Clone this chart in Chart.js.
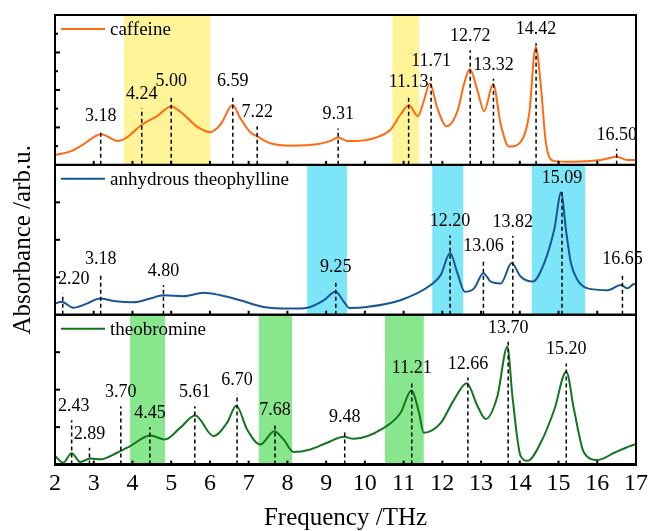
<!DOCTYPE html>
<html>
<head>
<meta charset="utf-8">
<script src="https://cdn.jsdelivr.net/npm/chart.js@4.4.1/dist/chart.umd.min.js"></script>
<style>
  html, body { margin: 0; padding: 0; background: #fff; }
</style>
</head>
<body>
<canvas id="canvasEspectro" width="648" height="531"></canvas>
<script>
// eixo x (THz)
var xTicks = [2, 3, 4, 5, 6, 7, 8, 9, 10, 11, 12, 13, 14, 15, 16, 17]

// cafeina
var freqCaffeine = [2.0, 2.4, 2.72, 3.19, 3.63, 3.85, 4.24, 4.63, 5.0, 5.32, 5.66, 6.01, 6.27, 6.59, 6.78, 7.04, 7.23, 7.56, 8.08, 8.77, 9.11, 9.31, 9.54, 9.80, 10.23, 10.66, 10.92, 11.14, 11.37, 11.52, 11.68, 11.87, 12.11, 12.39, 12.56, 12.71, 12.91, 13.08, 13.31, 13.51, 13.72, 14.03, 14.24, 14.41, 14.54, 14.67, 14.89, 15.4, 16.09, 16.5, 16.78, 17.0]
var absCaffeine = [6.6, 9, 13.5, 20.5, 16, 18.2, 26.8, 32.4, 39, 33.6, 25.7, 21.8, 26.8, 39.9, 31.3, 21.8, 18.9, 14.4, 12.8, 13.7, 16, 18.2, 16, 16, 17.8, 23.4, 33.6, 39.7, 32.4, 42.6, 54.3, 38, 25.7, 35.8, 53.9, 64, 49.3, 35.8, 53.9, 26.8, 12.2, 15.5, 33.6, 78.6, 53.9, 15.5, 2.5, 2, 3.2, 5.4, 3.2, 3.2]
var peaksCaffeine = [3.18, 4.24, 5.00, 6.59, 7.22, 9.31, 11.13, 11.71, 12.72, 13.32, 14.42, 16.50]
var topsCaffeine = [23, 37.8, 46.6, 46.6, 25.7, 24.3, 45.9, 60.1, 76.4, 57.4, 81.1, 10.8]
var bandsCaffeine = [[3.78, 6.01], [10.71, 11.40]]

// teofilina anidra
var freqTheophylline = [2.0, 2.17, 2.47, 2.82, 3.16, 3.51, 4.02, 4.46, 4.80, 5.32, 5.84, 6.27, 6.78, 7.39, 8.08, 8.51, 8.94, 9.24, 9.46, 9.6, 10.06, 10.92, 11.70, 11.96, 12.20, 12.39, 12.58, 12.82, 13.06, 13.25, 13.51, 13.79, 14.02, 14.33, 14.63, 14.89, 15.07, 15.19, 15.32, 15.49, 15.75, 16.27, 16.61, 16.78, 16.95, 17.0]
var absTheophylline = [7.4, 8.6, 4.7, 7.4, 10.8, 9.2, 8.3, 10.8, 13, 12.4, 14.7, 13, 9.7, 5.2, 4.1, 4.7, 9.7, 15.3, 8.6, 4.5, 5.2, 9.7, 19.8, 26.6, 41.2, 27.7, 15.3, 17.6, 27.7, 22.1, 20.9, 34.5, 25.5, 22.1, 34.5, 57, 81.8, 57, 34.5, 23.2, 17.6, 16.4, 19.8, 17.6, 20.5, 20]
var peaksTheophylline = [2.20, 3.18, 4.80, 9.25, 12.20, 13.06, 13.82, 15.09, 16.65]
var topsTheophylline = [14.2, 27.7, 19.8, 22.8, 52.9, 36.3, 52.5, 81.8, 27.7]
var bandsTheophylline = [[8.51, 9.54], [11.74, 12.54], [14.31, 15.69]]

// teobromina
var freqTheobromine = [2.0, 2.21, 2.43, 2.65, 2.91, 3.16, 3.60, 3.94, 4.46, 4.84, 5.23, 5.62, 6.09, 6.44, 6.68, 6.96, 7.30, 7.66, 7.90, 8.16, 8.59, 9.03, 9.46, 9.71, 10.49, 10.92, 11.20, 11.40, 11.52, 11.96, 12.30, 12.63, 12.91, 13.12, 13.42, 13.68, 13.81, 14.02, 14.2, 14.54, 14.89, 15.20, 15.40, 15.66, 16.01, 16.44, 16.96, 17.0]
var absTheobromine = [5.8, 1.3, 7.5, 1.8, 4, 3.5, 7.9, 12.4, 19.4, 16.8, 24.5, 32.7, 19, 27.8, 39.3, 23.4, 13.4, 22.3, 16.8, 8.4, 10.1, 14.6, 18.5, 17.2, 24.5, 34.4, 49.5, 34.4, 21.2, 27.8, 43.2, 54.3, 38.9, 30.5, 45.5, 78.6, 45.5, 5.8, 2.5, 14.6, 36.6, 62, 36.6, 7.9, 3.1, 7.9, 13.4, 13.6]
var peaksTheobromine = [2.43, 2.89, 3.70, 4.45, 5.61, 6.70, 7.68, 9.48, 11.21, 12.66, 13.70, 15.20]
var topsTheobromine = [29.6, 11.3, 38.9, 25, 38.9, 47, 27.2, 22.3, 55.4, 58.1, 81.9, 67.5]
var bandsTheobromine = [[3.94, 4.84], [7.26, 8.12], [10.52, 11.52]]

var yMajor = [25, 50, 75]
var yMinorCaffeine = [12.5, 37.5, 62.5, 87.5]

var serif = "'Liberation Serif', 'DejaVu Serif', serif"

function pontos(freqs, vals){
    var out = []
    freqs.forEach((f, i) => {
        out.push({x: f, y: vals[i]})
    })
    return out
}

var paineis = [
    {axis: 'yTop', cor: 'rgb(255, 106, 19)', banda: 'rgb(255, 245, 152)', bands: bandsCaffeine, peaks: peaksCaffeine, tops: topsCaffeine, minor: yMinorCaffeine},
    {axis: 'yMid', cor: 'rgb(22, 86, 150)', banda: 'rgb(125, 229, 248)', bands: bandsTheophylline, peaks: peaksTheophylline, tops: topsTheophylline, minor: []},
    {axis: 'yBot', cor: 'rgb(18, 118, 30)', banda: 'rgb(136, 230, 140)', bands: bandsTheobromine, peaks: peaksTheobromine, tops: topsTheobromine, minor: []}
]

var decoracao = {
    id: 'decoracao',
    beforeDatasetsDraw(chart){
        var ctx = chart.ctx
        var sx = chart.scales.x
        paineis.forEach((p) => {
            var sy = chart.scales[p.axis]
            ctx.save()
            ctx.fillStyle = p.banda
            p.bands.forEach((b) => {
                var x0 = sx.getPixelForValue(b[0])
                var x1 = sx.getPixelForValue(b[1])
                ctx.fillRect(x0, sy.top, x1 - x0, sy.bottom - sy.top)
            })
            ctx.restore()
        })
    },
    afterDatasetsDraw(chart){
        var ctx = chart.ctx
        var sx = chart.scales.x
        var area = chart.chartArea
        paineis.forEach((p, idx) => {
            var sy = chart.scales[p.axis]
            ctx.save()
            // linhas tracejadas dos picos
            ctx.strokeStyle = '#000'
            ctx.lineWidth = 1.5
            ctx.setLineDash([4, 3])
            p.peaks.forEach((pk, i) => {
                var px = sx.getPixelForValue(pk)
                ctx.beginPath()
                ctx.moveTo(px, sy.bottom)
                ctx.lineTo(px, sy.getPixelForValue(p.tops[i]))
                ctx.stroke()
            })
            ctx.setLineDash([])
            // rotulos
            ctx.fillStyle = '#000'
            ctx.font = '18px ' + serif
            ctx.textAlign = 'center'
            ctx.textBaseline = 'alphabetic'
            p.peaks.forEach((pk, i) => {
                var txt = pk.toFixed(2)
                var w = ctx.measureText(txt).width
                var px = Math.max(sx.getPixelForValue(pk), area.left + w / 2 + 3)
                ctx.fillText(txt, px, sy.getPixelForValue(p.tops[i]) - 9)
            })
            // ticks internos
            ctx.lineWidth = 2
            xTicks.forEach((t) => {
                var px = sx.getPixelForValue(t)
                ctx.beginPath()
                ctx.moveTo(px, sy.bottom)
                ctx.lineTo(px, sy.bottom - 4)
                ctx.stroke()
            })
            yMajor.forEach((t) => {
                var py = sy.getPixelForValue(t)
                ctx.beginPath()
                ctx.moveTo(area.left, py)
                ctx.lineTo(area.left + 5, py)
                ctx.stroke()
            })
            p.minor.forEach((t) => {
                var py = sy.getPixelForValue(t)
                ctx.beginPath()
                ctx.moveTo(area.left, py)
                ctx.lineTo(area.left + 3, py)
                ctx.stroke()
            })
            // moldura
            ctx.strokeRect(area.left, sy.top, area.right - area.left, sy.bottom - sy.top)
            // legenda
            var ds = chart.data.datasets[idx]
            var ly = sy.top + 14
            ctx.strokeStyle = p.cor
            ctx.lineWidth = 2
            ctx.beginPath()
            ctx.moveTo(area.left + 6, ly)
            ctx.lineTo(area.left + 50, ly)
            ctx.stroke()
            ctx.font = '19px ' + serif
            ctx.textAlign = 'left'
            ctx.textBaseline = 'middle'
            ctx.fillText(ds.label, area.left + 55, ly + 1)
            ctx.restore()
        })
        // borda inferior mais grossa
        ctx.save()
        ctx.strokeStyle = '#000'
        ctx.lineWidth = 3
        ctx.beginPath()
        ctx.moveTo(area.left - 1, area.bottom)
        ctx.lineTo(area.right + 1, area.bottom)
        ctx.stroke()
        // titulo do eixo y
        ctx.translate(23, (area.top + area.bottom) / 2)
        ctx.rotate(-Math.PI / 2)
        ctx.font = '25px ' + serif
        ctx.fillStyle = '#000'
        ctx.textAlign = 'center'
        ctx.textBaseline = 'middle'
        ctx.fillText('Absorbance /arb.u.', 0, 0)
        ctx.restore()
    }
}

function eixoY(){
    return {
        type: 'linear', min: 0, max: 100, position: 'left', stack: 'paineis', stackWeight: 1,
        ticks: {display: false}, grid: {display: false, drawTicks: false}, border: {display: false}
    }
}

var ctx = document.getElementById('canvasEspectro').getContext('2d')
var chart = new Chart(ctx, {
    type: 'line',
    data: {
        datasets: [
            {label: 'caffeine', data: pontos(freqCaffeine, absCaffeine), yAxisID: 'yTop', borderColor: paineis[0].cor},
            {label: 'anhydrous theophylline', data: pontos(freqTheophylline, absTheophylline), yAxisID: 'yMid', borderColor: paineis[1].cor},
            {label: 'theobromine', data: pontos(freqTheobromine, absTheobromine), yAxisID: 'yBot', borderColor: paineis[2].cor}
        ]
    },
    options: {
        responsive: false,
        animation: false,
        devicePixelRatio: 1,
        layout: {padding: {left: 55, right: 0, top: 15, bottom: 0}},
        elements: {
            point: {radius: 0},
            line: {borderWidth: 2, cubicInterpolationMode: 'monotone', fill: false}
        },
        plugins: {legend: {display: false}, tooltip: {enabled: false}},
        scales: {
            x: {
                type: 'linear', min: 2, max: 17, position: 'bottom',
                afterBuildTicks: (s) => { s.ticks = xTicks.map((v) => ({value: v})) },
                ticks: {color: '#000', font: {family: serif, size: 24, lineHeight: 1.6}, padding: 0, maxRotation: 0},
                grid: {display: false, drawTicks: false}, border: {display: false},
                title: {display: true, text: 'Frequency /THz', color: '#000', font: {family: serif, size: 25, lineHeight: 1.0}, padding: {top: 3, bottom: 0}}
            },
            yBot: eixoY(),
            yMid: eixoY(),
            yTop: eixoY()
        }
    },
    plugins: [decoracao]
})
</script>
</body>
</html>
